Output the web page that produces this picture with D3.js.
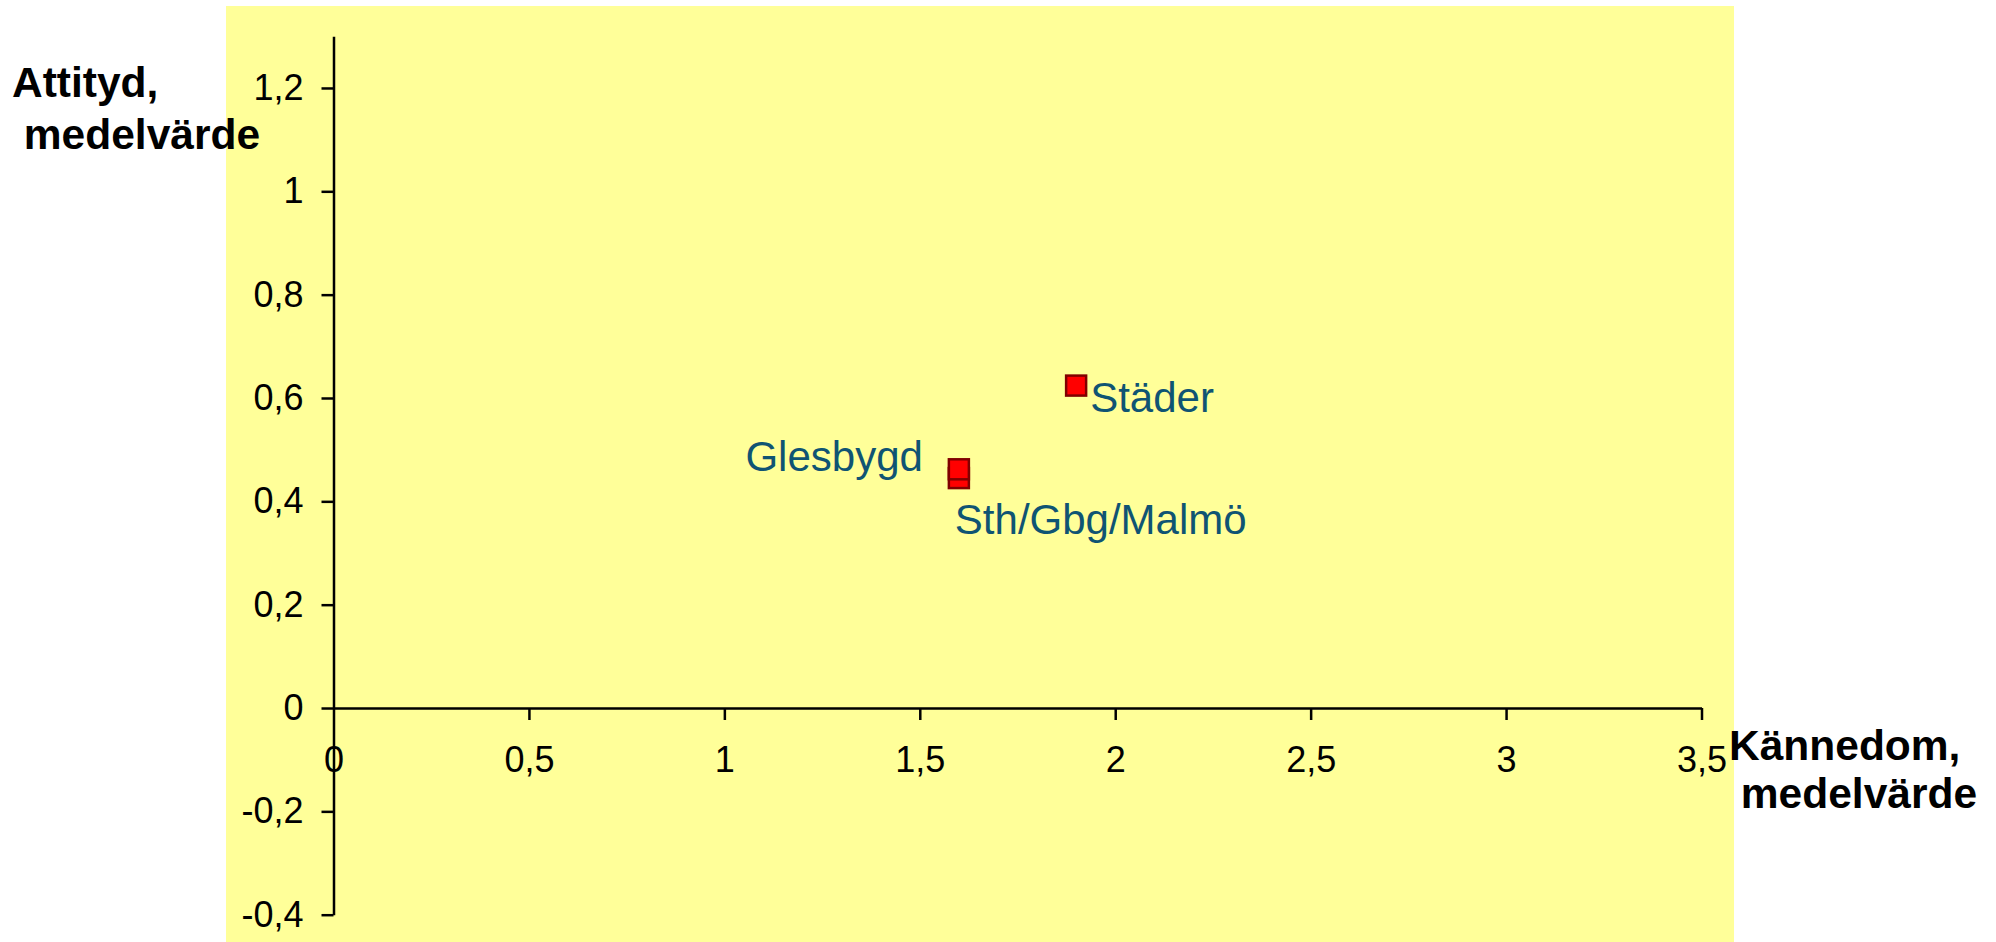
<!DOCTYPE html>
<html>
<head>
<meta charset="utf-8">
<script src="https://cdn.jsdelivr.net/npm/d3@7"></script>
<style>
  html, body { margin: 0; padding: 0; background: #ffffff; }
  svg { display: block; }
  text { font-family: "Liberation Sans", Arial, sans-serif; }
</style>
</head>
<body>
<script>
// ---- data ----
const groups = ["Städer", "Sth/Gbg/Malmö", "Glesbygd"];
const kannedom = [1.9, 1.6, 1.6];     // x: Kännedom, medelvärde
const attityd = [0.624, 0.445, 0.462]; // y: Attityd, medelvärde
const xTicks = [0, 0.5, 1, 1.5, 2, 2.5, 3, 3.5];
const yTicks = [-0.4, -0.2, 0, 0.2, 0.4, 0.6, 0.8, 1, 1.2];
const xTitle = ["Kännedom,", " medelvärde"];
const yTitle = ["Attityd,", " medelvärde"];

// ---- layout / style ----
const W = 1996, H = 942;
const labelPlacement = {
  "Städer": { dx: 14, dy: 26, anchor: "start" },
  "Sth/Gbg/Malmö": { dx: -4, dy: 56, anchor: "start" },
  "Glesbygd": { dx: -36, dy: 2, anchor: "end" }
};
const fmt = v => String(v).replace(".", ",");

const svg = d3.select("body").append("svg").attr("width", W).attr("height", H);

// plot area background
svg.append("rect").attr("x", 226).attr("y", 6).attr("width", 1508).attr("height", 936)
  .attr("fill", "#FFFF99");

const x = d3.scaleLinear().domain([0, 3.5]).range([333.5, 1701.5]);
const y = d3.scaleLinear().domain([-0.4, 1.3]).range([914.7, 36.3]);

// y axis
const yAxis = d3.axisLeft(y).tickValues(yTicks).tickFormat(fmt).tickSizeInner(12).tickSizeOuter(0).tickPadding(18);
const gy = svg.append("g").attr("transform", `translate(${x(0)},0)`).call(yAxis);
gy.select(".domain").attr("stroke", "#000").attr("stroke-width", 2.5);
gy.selectAll(".tick line").attr("stroke", "#000").attr("stroke-width", 2.5);
gy.selectAll(".tick text").attr("font-size", 36).attr("fill", "#000")
  .attr("font-family", "'Liberation Sans', Arial, sans-serif");

// x axis at y=0
const xAxis = d3.axisBottom(x).tickValues(xTicks).tickFormat(fmt).tickSizeInner(12).tickSizeOuter(0).tickPadding(0);
const gx = svg.append("g").attr("transform", `translate(0,${y(0)})`).call(xAxis);
gx.select(".domain").attr("stroke", "#000").attr("stroke-width", 2.5);
gx.selectAll(".tick line").attr("stroke", "#000").attr("stroke-width", 2.5)
  .attr("display", d => d === 0 ? "none" : null);
gx.selectAll(".tick text").attr("font-size", 36).attr("fill", "#000")
  .attr("font-family", "'Liberation Sans', Arial, sans-serif")
  .attr("dy", null).attr("y", 64);

// axis titles
const yt = svg.append("text").attr("font-size", 42.5).attr("font-weight", "bold").attr("fill", "#000")
  .attr("xml:space", "preserve").style("white-space", "pre");
yTitle.forEach((t, i) => yt.append("tspan").attr("x", 12).attr("y", 97 + i * 52).text(t));

const xt = svg.append("text").attr("font-size", 42.5).attr("font-weight", "bold").attr("fill", "#000")
  .attr("xml:space", "preserve").style("white-space", "pre");
xTitle.forEach((t, i) => xt.append("tspan").attr("x", 1729).attr("y", 760 + i * 48).text(t));

// points
const pts = groups.map((g, i) => ({ name: g, x: kannedom[i], y: attityd[i] }));
const S = 20;
svg.append("g").selectAll("rect").data(pts).join("rect")
  .attr("x", d => x(d.x) - S / 2).attr("y", d => y(d.y) - S / 2)
  .attr("width", S).attr("height", S)
  .attr("fill", "#FF0000").attr("stroke", "#800000").attr("stroke-width", 2.5);

// labels
svg.append("g").selectAll("text").data(pts).join("text")
  .attr("x", d => x(d.x) + labelPlacement[d.name].dx)
  .attr("y", d => y(d.y) + labelPlacement[d.name].dy)
  .attr("text-anchor", d => labelPlacement[d.name].anchor)
  .attr("font-size", 42).attr("fill", "#0F5473")
  .text(d => d.name);
</script>
</body>
</html>
